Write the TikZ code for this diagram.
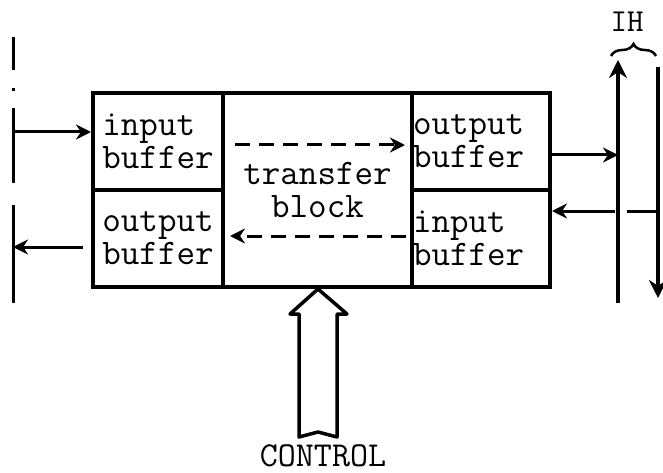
\documentclass[tikz,border=0pt]{standalone}
\usepackage{fontspec}
\usetikzlibrary{arrows.meta,decorations.pathreplacing}
\begin{document}
\begin{tikzpicture}[x=1pt,y=-1pt,
  font=\ttfamily\fontsize{36}{33}\selectfont,
  cell/.style={draw,line width=4pt,inner sep=0pt,minimum height=97pt},
  arr/.style={line width=3pt,-{Stealth[length=15pt,width=15pt]}},
  dasharr/.style={arr,dash pattern=on 15pt off 9pt},
  bus/.style={line width=4pt}]
\useasboundingbox (0,0) rectangle (663,473);

% buffer cells and the transfer block
\node[cell,minimum width=189pt,minimum height=194pt,align=center]
  (tb) at (317.5,190) {transfer\\block};
\node[cell,minimum width=130pt,align=left] (ibl) at (158,141.5) {input\\buffer};
\node[cell,minimum width=130pt,align=left] (obl) at (158,238.5) {output\\buffer};
\node[cell,minimum width=138pt,text width=136pt,inner xsep=1pt,align=left]
  (obr) at (481,141.5) {output\\buffer};
\node[cell,minimum width=138pt,text width=136pt,inner xsep=1pt,align=left]
  (ibr) at (481,238.5) {input\\buffer};

% left bus (dash-dot)
\coordinate (lb top) at (13,37);
\coordinate (lb bot) at (13,303);
\draw[line width=3pt,dash pattern=on 33pt off 18pt on 3pt off 17pt on 75pt off 22pt on 100pt]
  (lb top) -- (lb bot);
\coordinate (lb in) at (13,132);
\coordinate (lb out) at (13,247);
\draw[arr] (lb in) -- (lb in -| ibl.west);
\draw[arr,shorten <=8pt] (obl.west |- lb out) -- (lb out);

% transfers through the block
\draw[dasharr,shorten <=14pt,shorten >=5pt] (tb.west |- 0,145) -- (obr.west |- 0,145);
\draw[dasharr,shorten <=4pt,shorten >=9pt] (ibr.west |- 0,236) -- (tb.west |- 0,236);

% IH bus pair
\coordinate (up bot) at (618,303);
\coordinate (up top) at (618,60);
\coordinate (dn top) at (658,67);
\coordinate (dn bot) at (658,298);
\draw[bus,-{Stealth[length=18pt,width=18pt]}] (up bot) -- (up top);
\draw[bus,-{Stealth[length=18pt,width=18pt]}] (dn top) -- (dn bot);
\draw[arr] (obr.east |- 0,155) -- (up bot |- 0,155);
\coordinate (hop) at (up top |- 0,211);
\draw[line width=3pt] (dn top |- hop) -- ([xshift=9pt]hop);
\draw[arr] ([xshift=-3pt]hop) -- (ibr.east |- hop);
\draw[line width=2.5pt,decorate,decoration={brace,amplitude=12pt}]
  (611,56) -- (656,56);
\node[font=\ttfamily\fontsize{32}{33}\selectfont] (ih) at (627,22) {IH};

% control input
\draw[line width=3.5pt,line join=round]
  (318,289) -- (347,314) -- (337,314) -- (337,437) -- (318,432)
  -- (299,437) -- (299,314) -- (290,314) -- cycle;
\node[font=\ttfamily\fontsize{35}{33}\selectfont,inner sep=0pt] (ctl) at (323,456) {CONTROL};
\end{tikzpicture}
\end{document}
